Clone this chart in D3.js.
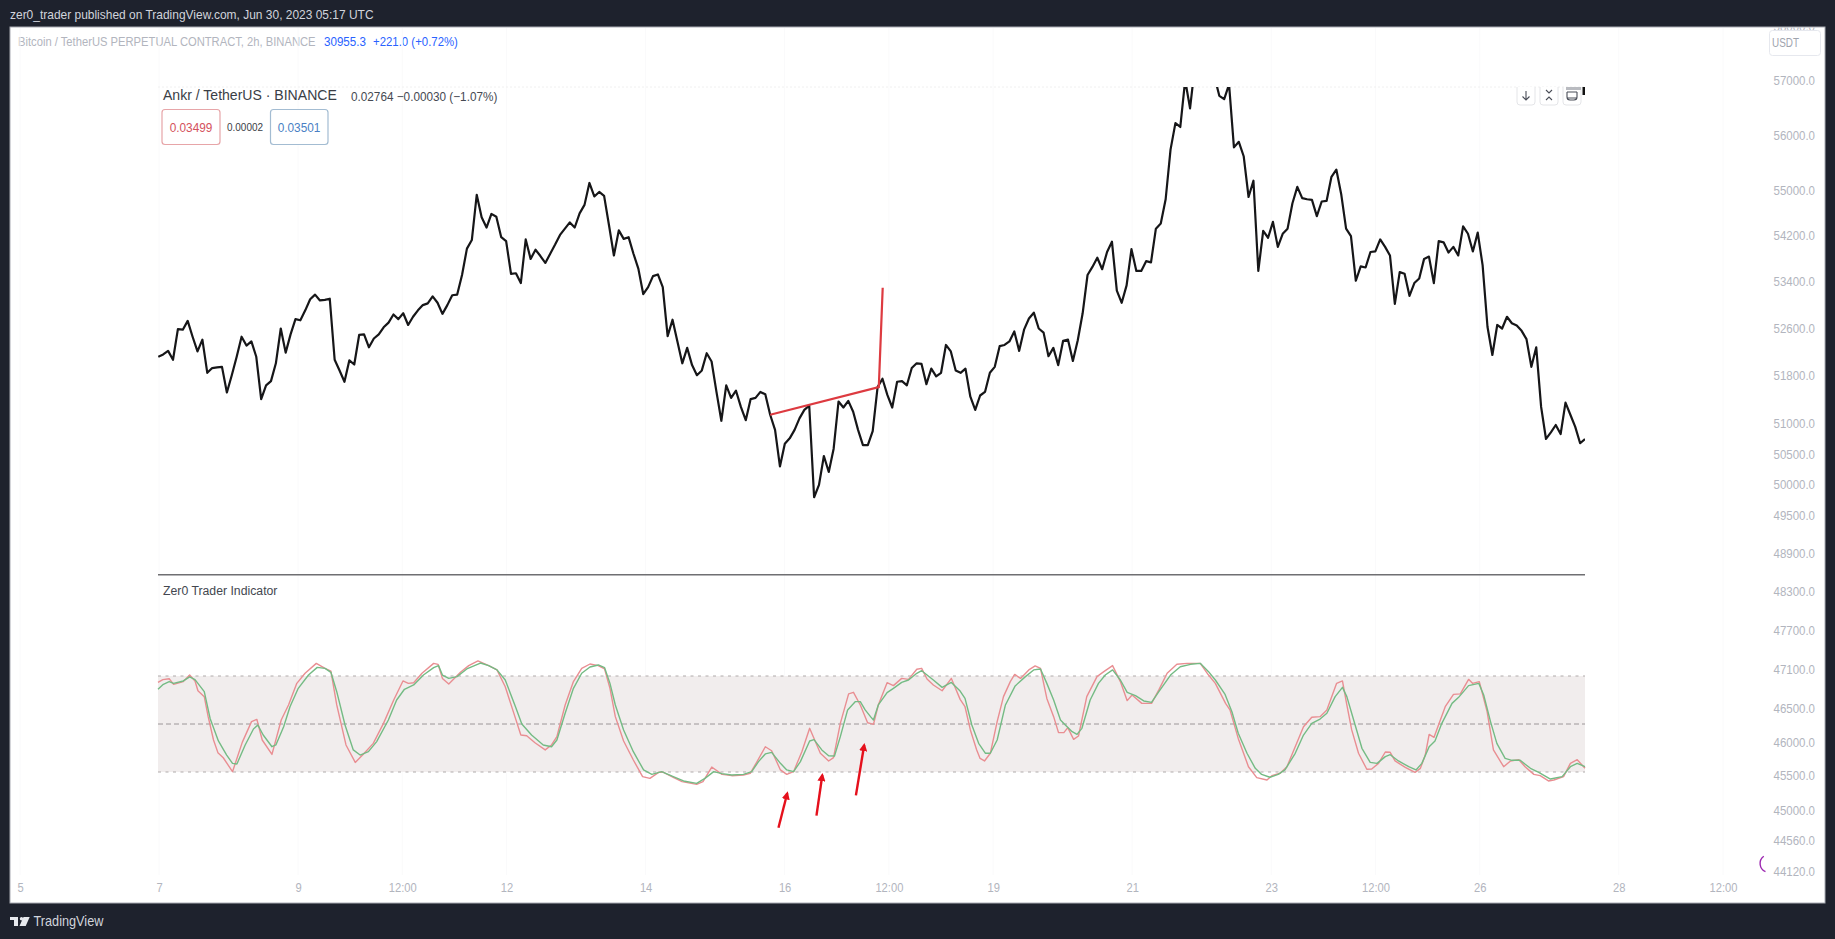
<!DOCTYPE html>
<html><head><meta charset="utf-8">
<script src="https://cdn.jsdelivr.net/npm/d3@7"></script>
<style>html,body{margin:0;padding:0;background:#1e222d;overflow:hidden}svg{display:block}text{font-family:"Liberation Sans",Arial,sans-serif}</style>
</head><body><svg id="c" width="1835" height="939"></svg>
<script>
const headerText = "zer0_trader published on TradingView.com, Jun 30, 2023 05:17 UTC";
const priceTicks = [58000,57000,56000,55000,54200,53400,52600,51800,51000,50500,50000,49500,48900,48300,47700,47100,46500,46000,45500,45000,44560,44120];
const dayTicks = [5,7,9,10.5,12,14,16,17.5,19,21,23,24.5,26,28,29.5];
const dayLabels = ["5","7","9","12:00","12","14","16","12:00","19","21","23","12:00","26","28","12:00"];
const bands = [80,50,20];

const ankrLine = [
52140,52180,52240,52090,52610,52600,52750,52480,52230,52430,51870,51950,51960,51970,51540,51830,52140,52480,52330,52400,52140,51430,51660,51730,52030,52620,52210,52520,52780,52760,52930,53120,53200,53100,53110,53130,52090,51910,51720,52080,52010,52510,52520,52300,52450,52520,52640,52720,
52860,52780,52880,52680,52820,52930,53020,53050,53170,53060,52870,53020,53190,53200,53540,54000,54150,54950,54550,54370,54610,54560,54200,54130,53560,53570,53400,54160,53820,53980,53870,53750,53910,54070,54240,54350,54460,54370,54620,54770,55160,54920,55000,54930,54410,53880,54320,54170,
54200,53910,53650,53210,53330,53520,53550,53330,52490,52770,52400,52030,52290,52000,51830,51910,52200,52060,51550,51070,51660,51450,51570,51300,51080,51430,51450,51550,51510,51170,50920,50320,50690,50780,50920,51110,51250,51320,49820,50020,50490,50230,50610,51390,51290,51400,51220,50920,50670,50670,50900,51630,51770,51500,51290,51720,51730,51660,51950,52030,52020,51680,51940,51810,51870,52340,52230,51910,51870,51940,51470,51250,51490,51550,51870,51970,52320,52340,52400,52570,52240,52600,52790,52890,52620,52550,52150,52290,52000,52410,52430,52070,52420,52880,53540,53680,53840,53640,53940,54120,53270,53060,53360,53990,53610,53610,53780,53760,54350,54440,54870,55760,56240,56170,57030,56510,57300,57500,57600,57400,57100,
56740,56680,56950,55800,55900,55640,54910,55200,53610,54310,54190,54470,54030,54260,54350,54800,55090,54890,54870,54860,54570,54830,54840,55270,55400,54960,54350,54220,53440,53690,53670,53940,53950,54160,54030,53880,53040,53590,53560,53180,53400,53480,53820,53860,53400,54130,54110,53930,54030,53880,54390,54260,53950,54280,53710,52650,52170,52680,52620,52820,52710,52670,52580,52440,51970,52300,51300,50770,50880,51000,50850,51370,51170,50970,50700,50770];

const redBars = [0,1,2.3,3.2,5.2,6.5,7.6,8.2,9.5,10.3,11.4,12.3,13.4,15.3,17.3,19.2,20.3,21.4,23.4,25.3,26.8,28.5,30.2,32.5,34.3,35.5,36.7,38.6,40.5,42.2,44.2,46.3,48.4,50.3,51.4,52.5,54.2,56.6,57.5,58.4,59.7,62.1,63.8,65.7,67.9,69.6,71.3,73.4,
74.5,75.7,77.4,79.5,80.8,81.9,83.6,85.3,87,88.7,90.4,91.7,92.8,93.9,95.6,97.6,99.5,101,102.8,103.8,105.8,107.6,110.6,111.9,113.7,115.8,117.8,120.2,121.6,123,124.7,126,127.8,129.1,130.5,132.2,133.8,136,137.7,138.7,140.1,141.8,142.8,144.2,145.7,146.2,
146.9,147.9,149.7,151,152.7,154.1,155.8,156.8,157.9,159.2,161,162.9,164.7,165.7,166.8,168.1,168.8,169.7,170.9,172.3,173.6,175,175.9,177.1,178.8,180.1,181.2,182.5,183.9,184.9,186,186.8,188,189,190.7,192.8,194.2,196,197.6,199,200,202,204,205.5,207.2,209.2,211.3,214,215.7,217.1,219.2,
220.1,221.8,223.9,225.6,227.7,228.7,230.4,231.8,233.5,235.2,236.9,238.6,240,242,243.2,244.1,245.1,246.5,248.2,249.2,250.6,252,253,254,256.1,258.1,259.2,260.2,261,262,264.3,266,267.4,269.1,269.9,271.3,272.9,274.2,276.3,277.7,279.4,280.7,282.5,283.8,285.5,286.6,288.6,290,291.4,293];
const redValues = [76,77.7,78.3,74.8,76.5,80.6,76.9,70.8,67.1,54.6,40,32.1,28.9,20.2,38.5,51.5,52.9,40,31,52.5,61.9,75.4,81.7,87.9,84.8,83.1,61.9,36.9,26,31.3,37.9,50.4,65,76.9,75.4,75.8,81.7,87.9,87.3,78.5,75,82.3,86.5,89.4,86.5,83.8,73.3,53.5,
43.1,42.7,38.3,33.8,36.9,42.1,61.9,76.5,84.8,87.5,86.5,84.4,72.3,54.6,39.4,27.5,17.1,16,19.8,19.8,16.7,14,12.3,14,23.1,18.5,17.7,18.1,19.2,26.5,35.8,33.3,21.3,18.5,20.2,32.7,47.3,31.7,26.9,29,50.4,68.8,69.8,61.9,50.8,50.4,
49.8,61.9,75.8,74,78.5,77.9,84.2,84.8,78.1,74.4,70.8,78.5,65.4,60.8,46.3,33.8,28.5,26.9,31.7,51.5,67.1,76.5,81,78.5,83.8,86.3,84.8,66,54.6,44.6,44.6,47.7,40.4,42.5,67.1,79.6,82.7,86.5,76.5,64.6,68.1,62.9,62.9,71.3,81.7,87.3,87.9,87.9,80.6,75.4,62.9,
58.8,41,23.3,16.5,15,17.7,19.2,23.3,35.8,48.3,54.2,54.6,58.8,75.4,76.9,61.9,46.3,31.7,21.7,21.9,25.4,32.5,32.3,26.9,22.9,19.8,22.3,30.6,43.5,41.7,60.8,68.5,68.8,77.9,75.4,76.5,57.7,33.8,23.3,26.9,27.7,23.3,18.5,17.7,14.4,15,17.1,25.4,27.7,22.3];

const greenBars = [0,1.1,2.3,3.2,5.2,6.5,7.6,9.5,10.7,12.4,14.1,15.3,16.2,17.9,19.6,20.5,21.6,23.4,24.2,25.8,27.1,28.8,30.9,32.7,34.3,35.5,36.7,38.4,40.1,41.5,43.2,44.9,47.3,49,50.6,52.5,54.5,56.6,57.6,58.4,59.7,61.4,63.4,66.2,67.9,69.6,71.3,73.4,
74.7,76.7,79.1,80.8,81.9,83.6,85.3,87,88.7,90.4,91.7,92.8,93.9,95.6,97.6,99.7,101.4,103.4,105.8,107.9,110.6,112.3,114.1,115.8,117.8,120.2,121.9,123.3,124.7,126,127.8,129.1,130.5,131.9,133.8,134.7,136.3,137.7,138.9,140.1,141.6,143.2,144.2,145.2,146.3,
146.9,147.9,149.7,151,152.7,154.1,155.8,156.8,157.9,159.2,161,162.9,164.7,165.7,167.1,168.5,169.9,170.9,172.3,174,176,178.1,179.8,181.2,182.5,183.9,185.3,186.3,187.7,188.7,189.7,191.4,193.1,194.5,196,197.6,199,200.7,202.4,204,205.5,207.9,209.9,212,214,215.7,217.1,219.1,
220.5,221.8,223.6,225.3,226.6,228.3,230,231.4,233.5,235.2,236.9,238.6,240,241.7,243.2,244.1,245.5,247.2,248.9,250.3,252,253,254.7,256.8,258.3,259.5,261,262.2,263.6,265.7,267,269.1,271.2,272.2,273.6,274.9,276.6,278,279.7,281.8,283.5,285.9,288.3,290,291.4,293];
const greenValues = [71.7,74.8,76.5,75.4,76.9,79.4,77.7,70.2,53.5,39.4,30.6,25.4,25,36.9,46.9,49.4,43.1,35.8,36.9,48.3,60.8,72.3,80.6,85.4,84.8,82.3,70.2,49.4,33.8,30.6,32.7,39,52.5,65,71.7,74.4,80.6,85.2,86.5,80.6,78.5,79.6,84.4,88.1,86.5,83.8,77.5,60.8,
50,43.1,36.9,35.8,40,56.7,72.3,81.7,85.6,86.9,85.2,75.4,61.9,46.3,32.7,21.3,18.5,20.2,17.1,14.4,12.9,16,20.2,19,18.1,18.5,20.2,26.5,31.3,32.3,25.4,21.3,20.2,26.5,39.4,40.2,33.8,30.2,30,42.1,58.8,64,64,58.8,54.6,
52.5,61.9,69.6,72.3,76,77.5,81.7,83.3,80.6,77.5,72.9,76,70.6,66,49.4,37.9,31.7,31.7,40,61.9,73.8,79.6,83.8,84.4,75.4,65,52.5,49.4,45.2,43.5,47.3,65,75.4,80.6,83.8,77.5,69.8,67.7,64.4,63.5,70.2,80.6,85.8,87.3,87.9,82.7,77.5,68.5,
57.7,44.2,31.7,22.3,18.5,16.7,18.5,21.3,31.7,43.1,50.4,53.1,56.7,67.1,72.9,67.1,52.5,34.8,26,25.4,29.6,30.8,26.9,23.3,21.3,25.4,35.8,39.4,50.4,62.9,66.5,74,75.4,68.1,51.5,37.9,28.5,27.3,27.3,22.3,19.8,15.6,17.1,23.3,25.4,23.3];

const trendBars = [125.7,148,148.8];
const trendPrices = [51170,51630,53320];
const arrowBars = [[127.4,129.2],[135.2,136.4],[143.3,145]];
const arrowValues = [[-14.8,6.7],[-7.3,18.1],[5.4,36.9]];

const svg = d3.select("#c");
const dayX = d3.scaleLinear().domain([5,29.5]).range([20,1723]);
const priceY = d3.scaleLog().domain([57000,44120]).range([81.7,872.3]);
const barX = d3.scaleLinear().domain([0,293]).range([158,1585]);
const ankrX = d3.scaleLinear().domain([0,95,209,ankrLine.length-1]).range([158.3,623.7,1180.3,1585]);
const indY = d3.scaleLinear().domain([20,80]).range([772,676]);
const PL=158,PR=1585,PT=87,PS=574.7;

const defs = svg.append("defs");
defs.append("clipPath").attr("id","pane").append("rect").attr("x",PL).attr("y",PT).attr("width",PR-PL).attr("height",PS-PT);
defs.append("clipPath").attr("id","panel").append("rect").attr("x",10).attr("y",27.5).attr("width",1815).attr("height",876);

// frame
svg.append("rect").attr("width",1835).attr("height",939).attr("fill","#1e222d");
svg.append("rect").attr("x",10).attr("y",27).attr("width",1815).attr("height",876).attr("fill","#fff").attr("stroke","#a9acb4").attr("stroke-width",1);

function squeeze(t,x,y,len){
  const w=t.node().getComputedTextLength();
  t.attr("x",0).attr("y",0).attr("transform",`translate(${x},${y}) scale(${len/w},1)`);
}
function label(txt,x,y,size,color,len,anchor){
  const t=svg.append("text").attr("font-size",size).attr("fill",color).attr("dominant-baseline","central").attr("text-anchor",anchor||"start").text(txt);
  squeeze(t,x,y,len);
  return t;
}
label(headerText,10,15,13,"#d1d4dc",364);
label("Bitcoin / TetherUS PERPETUAL CONTRACT, 2h, BINANCE",18,42,13,"#b2b5be",298);
label("30955.3",324,42,13,"#2962ff",42);
label("+221.0 (+0.72%)",373,42,13,"#2962ff",85);

// faint grid
svg.append("g").selectAll("line").data(dayTicks).join("line")
  .attr("x1",d=>dayX(d)).attr("x2",d=>dayX(d)).attr("y1",28).attr("y2",875).attr("stroke","#fafafb");

// axes
const xAxis = d3.axisBottom(dayX).tickValues(dayTicks).tickFormat((d,i)=>dayLabels[i]).tickSize(0).tickPadding(0);
const gx = svg.append("g").attr("transform","translate(0,888)").call(xAxis);
gx.select(".domain").remove();
gx.selectAll("text").attr("y",0).attr("dy",0).attr("dominant-baseline","central").attr("font-size",13).attr("font-family",'"Liberation Sans"').attr("fill","#b2b5be");
gx.selectAll("text").each(function(){d3.select(this).attr("transform","scale(0.86,1)");});

const yAxis = d3.axisRight(priceY).tickValues(priceTicks).tickFormat(d=>d.toFixed(1)).tickSize(0).tickPadding(0);
const gy = svg.append("g").attr("clip-path","url(#panel)").append("g").attr("transform","translate(1815,-1.5)").call(yAxis);
gy.select(".domain").remove();
gy.selectAll("text").attr("x",0).attr("dy",0).attr("dominant-baseline","central").attr("text-anchor","end").attr("font-size",13).attr("font-family",'"Liberation Sans"').attr("fill","#b2b5be");
gy.selectAll("text").each(function(){d3.select(this).attr("transform",`scale(${41.5/this.getComputedTextLength()},1)`);});

// USDT box
svg.append("rect").attr("x",1769.5).attr("y",30.5).attr("width",51).attr("height",25).attr("rx",3).attr("fill","#fff").attr("stroke","#e6e8ee");
label("USDT",1772,42.7,13,"#a0a4ae",27);

// purple arc
svg.append("path").attr("transform","translate(1769,863.5)")
  .attr("d",d3.arc().innerRadius(8.2).outerRadius(9.6).startAngle(-Math.PI*0.87).endAngle(-Math.PI*0.2)())
  .attr("fill","#9c27b0");

// pasted chart top rule
svg.append("line").attr("x1",PL).attr("x2",PR).attr("y1",PT).attr("y2",PT).attr("stroke","#f0f0f0").attr("stroke-dasharray","2 2");

// ankr legend
label("Ankr / TetherUS · BINANCE",163,95.3,14.5,"#3a3e46",174);
label("0.02764 −0.00030 (−1.07%)",351,96.7,12.5,"#454952",146.5);
svg.append("rect").attr("x",162).attr("y",109.5).attr("width",58).attr("height",35).attr("rx",3).attr("fill","#fff").attr("stroke","#e7a5a8").attr("stroke-width",1.2);
svg.append("rect").attr("x",270.5).attr("y",109.5).attr("width",57.5).attr("height",35).attr("rx",3).attr("fill","#fff").attr("stroke","#a3bcd2").attr("stroke-width",1.2);
label("0.03499",191,127.5,12.5,"#d4515c",42.7,"middle");
label("0.00002",245,127,11,"#3a3e46",36,"middle");
label("0.03501",299,127.5,12.5,"#4a7fc4",42.7,"middle");

// pane buttons
[1526,1549,1572].forEach(cx=>{
  svg.append("path").attr("d",`M${cx-9},${PT}V${PT+15}a3,3 0 0 0 3,3H${cx+6}a3,3 0 0 0 3,-3V${PT}`).attr("fill","#fff").attr("stroke","#e4e5e8");
});
const ic={fill:"none",stroke:"#4a4e58","stroke-width":1.1};
const icon=d=>{const p=svg.append("path").attr("d",d);Object.entries(ic).forEach(([k,v])=>p.attr(k,v));};
icon("M1526,91V100M1522.5,96.5L1526,100L1529.5,96.5");
icon("M1546,90L1549,93L1552,90M1546,100L1549,97L1552,100");
icon("M1567,92H1577M1567,92V97q0,3 3,3H1574q3,0 3,-3V92M1567,98H1577");
svg.append("rect").attr("x",1566).attr("y",87).attr("width",15).attr("height",3).attr("fill","#b9bbc0");
svg.append("rect").attr("x",1582.5).attr("y",87).attr("width",2.5).attr("height",8).attr("fill","#111");

// price line
const ankrPath = d3.line().x((d,i)=>ankrX(i)).y(d=>priceY(d));
svg.append("path").attr("clip-path","url(#pane)").attr("d",ankrPath(ankrLine)).attr("fill","none").attr("stroke","#161618").attr("stroke-width",2.2).attr("stroke-linejoin","round");

// trend
svg.append("path").attr("d",d3.line().x(d=>barX(d[0])).y(d=>priceY(d[1]))(trendBars.map((b,i)=>[b,trendPrices[i]])))
  .attr("fill","none").attr("stroke","#dd3a40").attr("stroke-width",2.2);

// separator
svg.append("line").attr("x1",PL).attr("x2",PR).attr("y1",PS).attr("y2",PS).attr("stroke","#6f6f72").attr("stroke-width",1.5);
label("Zer0 Trader Indicator",163,590.7,12.5,"#43474f",114.5);

// indicator
svg.append("rect").attr("x",PL).attr("width",PR-PL).attr("y",indY(bands[0])).attr("height",indY(bands[2])-indY(bands[0])).attr("fill","#f1eded");
svg.append("g").selectAll("line").data(bands).join("line")
  .attr("x1",PL).attr("x2",PR).attr("y1",d=>indY(d)).attr("y2",d=>indY(d))
  .attr("stroke",d=>d===50?"#9c9698":"#b0abab").attr("stroke-width",1).attr("stroke-dasharray",d=>d===50?"5 3":"3 4.5");
const indPath = d3.line().x(d=>barX(d[0])).y(d=>indY(d[1]));
svg.append("path").attr("d",indPath(redBars.map((b,i)=>[b,redValues[i]]))).attr("fill","none").attr("stroke","#e98e92").attr("stroke-width",1.4).attr("stroke-linejoin","round");
svg.append("path").attr("d",indPath(greenBars.map((b,i)=>[b,greenValues[i]]))).attr("fill","none").attr("stroke","#74bb84").attr("stroke-width",1.4).attr("stroke-linejoin","round");

// arrows
defs.append("marker").attr("id","ah").attr("viewBox","0 0 8 8").attr("refX",6).attr("refY",4).attr("markerWidth",3.4).attr("markerHeight",3.4).attr("orient","auto")
  .append("path").attr("d","M0,0L8,4L0,8Z").attr("fill","#e5101c");
arrowBars.forEach((bs,i)=>{
  svg.append("line").attr("x1",barX(bs[0])).attr("y1",indY(arrowValues[i][0])).attr("x2",barX(bs[1])).attr("y2",indY(arrowValues[i][1]))
    .attr("stroke","#e5101c").attr("stroke-width",2.4).attr("marker-end","url(#ah)");
});

// footer
svg.append("path").attr("fill","#e8eaef").attr("d","M10,917H18V926H14V920H10Z M19.5,926L23.5,917H29.7L25.7,926Z");
svg.append("circle").attr("cx",21.5).attr("cy",918.7).attr("r",1.7).attr("fill","#e8eaef");
label("TradingView",33.5,921.7,14,"#d1d4dc",70);
</script></body></html>
